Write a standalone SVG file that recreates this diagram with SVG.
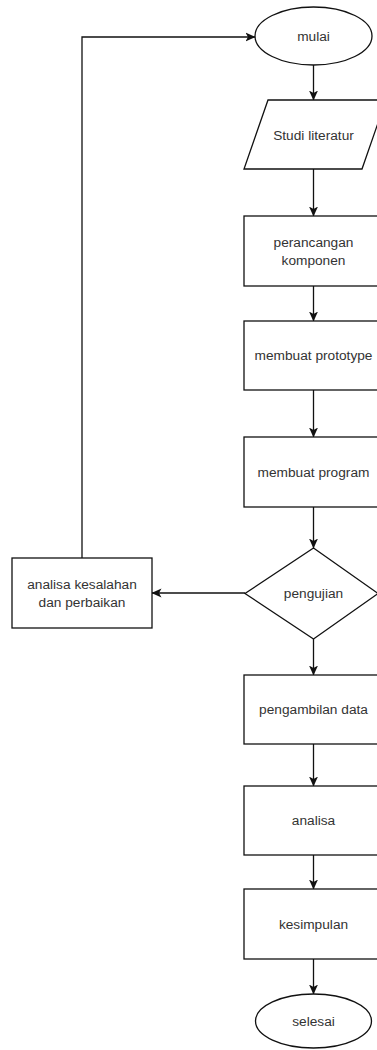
<svg xmlns="http://www.w3.org/2000/svg" width="377" height="1050" viewBox="0 0 377 1050">
<style>
.s{fill:#fff;stroke:#111;stroke-width:1.3}
.t{font-family:"Liberation Sans",Arial,sans-serif;font-size:13.7px;fill:#333;text-anchor:middle}
.c{fill:none;stroke:#111;stroke-width:1.3}
</style>
<defs>
<marker id="a" markerWidth="10" markerHeight="10" viewBox="0 0 10 10" refX="9.5" refY="5" orient="auto" markerUnits="userSpaceOnUse">
<path d="M0,0.5 L10,5 L0,9.5 L2.5,5 Z" fill="#111"/>
</marker>
</defs>
<rect width="377" height="1050" fill="#fff"/>
<g id="connectors">
<path class="c" d="M313.5,65 V100" marker-end="url(#a)"/>
<path class="c" d="M313.5,169 V216" marker-end="url(#a)"/>
<path class="c" d="M313.5,286 V321" marker-end="url(#a)"/>
<path class="c" d="M313.5,390 V437" marker-end="url(#a)"/>
<path class="c" d="M313.5,507 V548" marker-end="url(#a)"/>
<path class="c" d="M313.5,639 V675" marker-end="url(#a)"/>
<path class="c" d="M313.5,744 V786" marker-end="url(#a)"/>
<path class="c" d="M313.5,855 V889" marker-end="url(#a)"/>
<path class="c" d="M313.5,959 V994" marker-end="url(#a)"/>
<path class="c" d="M245,593 H152" marker-end="url(#a)"/>
<path class="c" d="M82,558 V37 H255" marker-end="url(#a)"/>
</g>
<g id="mulai"><ellipse class="s" cx="313.5" cy="36" rx="58.5" ry="29"/><text class="t" x="313.5" y="41">mulai</text></g>
<g id="studi"><polygon class="s" points="268,100 386,100 362,169 244,169"/><text class="t" x="313.5" y="140">Studi literatur</text></g>
<g id="perancangan"><rect class="s" x="244" y="216" width="140" height="70"/><text class="t" x="313.5" y="247">perancangan</text><text class="t" x="313.5" y="265">komponen</text></g>
<g id="prototype"><rect class="s" x="244" y="321" width="140" height="69"/><text class="t" x="313.5" y="360">membuat prototype</text></g>
<g id="program"><rect class="s" x="244" y="437" width="140" height="70"/><text class="t" x="313.5" y="477">membuat program</text></g>
<g id="pengujian"><polygon class="s" points="313.5,548 378,593.5 313.5,639 245,593.5"/><text class="t" x="313.5" y="598">pengujian</text></g>
<g id="analisa-kesalahan"><rect class="s" x="12" y="558" width="140" height="70"/><text class="t" x="82" y="589">analisa kesalahan</text><text class="t" x="82" y="607">dan perbaikan</text></g>
<g id="pengambilan"><rect class="s" x="244" y="675" width="140" height="69"/><text class="t" x="313.5" y="714">pengambilan data</text></g>
<g id="analisa"><rect class="s" x="244" y="786" width="140" height="69"/><text class="t" x="313.5" y="825">analisa</text></g>
<g id="kesimpulan"><rect class="s" x="244" y="889" width="140" height="70"/><text class="t" x="313.5" y="929">kesimpulan</text></g>
<g id="selesai"><ellipse class="s" cx="313.5" cy="1021" rx="58" ry="27"/><text class="t" x="313.5" y="1026">selesai</text></g>
</svg>
